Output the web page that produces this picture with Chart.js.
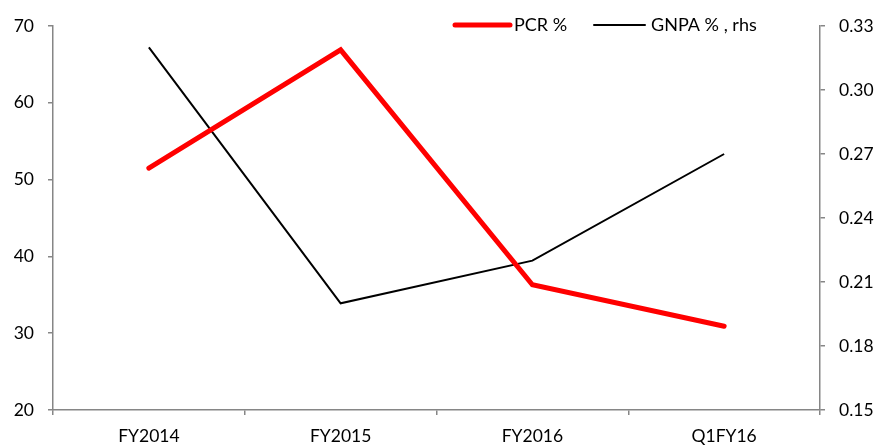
<!DOCTYPE html>
<html>
<head>
<meta charset="utf-8">
<script src="https://cdn.jsdelivr.net/npm/chart.js@4"></script>
<style>
  html, body { margin: 0; padding: 0; background: #fff; }
  #wrap { width: 879px; height: 445px; }
</style>
</head>
<body>
<div id="wrap"><canvas id="c" width="879" height="445"></canvas></div>
<script>
// Categories and series
const categories = ['FY2014', 'FY2015', 'FY2016', 'Q1FY16'];
const pcrValues = [51.5, 66.9, 36.3, 30.9];      // PCR %, left axis
const gnpaValues = [0.320, 0.200, 0.220, 0.270];  // GNPA %, right axis
const leftTicks = [20, 30, 40, 50, 60, 70];
const rightTicks = [0.15, 0.18, 0.21, 0.24, 0.27, 0.30, 0.33];

const FONT = 'Lato, "Open Sans", sans-serif';
const AXIS_GREY = '#868686';

// Legend drawn as line swatches above the plot, overlapping its top edge
const lineLegend = {
  id: 'lineLegend',
  afterDraw(chart) {
    const ctx = chart.ctx;
    const items = [
      { ds: chart.data.datasets[0], x0: 455, x1: 510, tx: 514 },
      { ds: chart.data.datasets[1], x0: 594, x1: 645, tx: 651 }
    ];
    const y = 25;
    ctx.save();
    ctx.font = '18px ' + FONT;
    ctx.textBaseline = 'middle';
    ctx.textAlign = 'left';
    items.forEach(it => {
      ctx.beginPath();
      ctx.strokeStyle = it.ds.borderColor;
      ctx.lineWidth = it.ds.borderWidth;
      ctx.lineCap = 'round';
      ctx.moveTo(it.x0, y);
      ctx.lineTo(it.x1, y);
      ctx.stroke();
      ctx.fillStyle = '#000';
      ctx.fillText(it.ds.label, it.tx, y);
    });
    ctx.restore();
  }
};

new Chart(document.getElementById('c'), {
  type: 'line',
  data: {
    labels: categories,
    datasets: [
      {
        label: 'PCR %',
        data: pcrValues,
        yAxisID: 'y',
        borderColor: '#ff0000',
        borderWidth: 5,
        pointRadius: 0,
        tension: 0,
        borderCapStyle: 'round'
      },
      {
        label: 'GNPA % , rhs',
        data: gnpaValues,
        yAxisID: 'y1',
        borderColor: '#000000',
        borderWidth: 2,
        pointRadius: 0,
        tension: 0
      }
    ]
  },
  options: {
    responsive: false,
    animation: false,
    devicePixelRatio: 1,
    layout: { padding: { top: 26, left: 0, right: 0, bottom: 0 } },
    plugins: {
      legend: { display: false },
      tooltip: { enabled: false }
    },
    scales: {
      x: {
        offset: true,
        grid: {
          offset: true,
          drawOnChartArea: false,
          drawTicks: true,
          tickLength: 5,
          color: AXIS_GREY,
          lineWidth: 1.5
        },
        border: { color: AXIS_GREY, width: 1.5 },
        ticks: {
          color: '#000',
          font: { family: FONT, size: 17.5 },
          padding: 11,
          maxRotation: 0
        },
        afterFit(scale) { scale.height = 35; }
      },
      y: {
        position: 'left',
        min: 20,
        max: 70,
        afterBuildTicks(scale) { scale.ticks = leftTicks.map(v => ({ value: v })); },
        grid: {
          drawOnChartArea: false,
          tickLength: 5,
          color: AXIS_GREY,
          lineWidth: 1.5
        },
        border: { color: AXIS_GREY, width: 1.5 },
        ticks: {
          color: '#000',
          font: { family: FONT, size: 17.5 },
          padding: 14
        },
        afterFit(scale) { scale.width = 53; }
      },
      y1: {
        position: 'right',
        min: 0.15,
        max: 0.33,
        afterBuildTicks(scale) { scale.ticks = rightTicks.map(v => ({ value: v })); },
        grid: {
          drawOnChartArea: false,
          tickLength: 5,
          color: AXIS_GREY,
          lineWidth: 1.5
        },
        border: { color: AXIS_GREY, width: 1.5 },
        ticks: {
          color: '#000',
          font: { family: FONT, size: 17.5 },
          padding: 14,
          callback: v => Number(v).toFixed(2)
        },
        afterFit(scale) { scale.width = 59; }
      }
    }
  },
  plugins: [lineLegend]
});
</script>
</body>
</html>
